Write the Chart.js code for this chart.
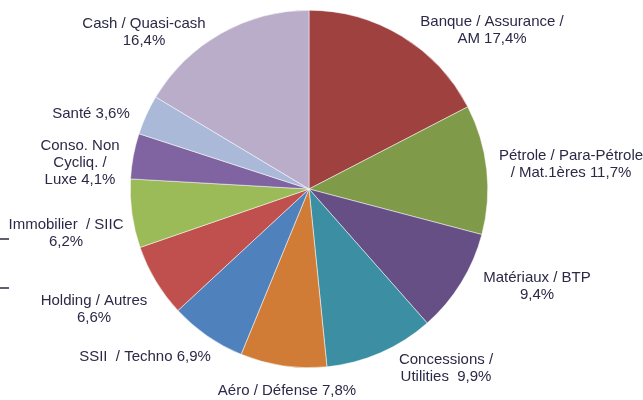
<!DOCTYPE html>
<html>
<head>
<meta charset="utf-8">
<script src="https://cdn.jsdelivr.net/npm/chart.js@4/dist/chart.umd.min.js"></script>
<style>
  html, body { margin: 0; padding: 0; background: #fff; }
  #wrap { width: 643px; height: 400px; }
</style>
</head>
<body>
<div id="wrap"><canvas id="myChart" width="643" height="400"></canvas></div>
<script>
// secteurs, dans l'ordre horaire depuis midi
const secteurs = [
  ['Banque / Assurance /', 'AM 17,4%'],
  ['Pétrole / Para-Pétrole', '/ Mat.1ères 11,7%'],
  ['Matériaux / BTP', '9,4%'],
  ['Concessions /', 'Utilities  9,9%'],
  ['Aéro / Défense 7,8%'],
  ['SSII  / Techno 6,9%'],
  ['Holding / Autres', '6,6%'],
  ['Immobilier  / SIIC', '6,2%'],
  ['Conso. Non', 'Cycliq. /', 'Luxe 4,1%'],
  ['Santé 3,6%'],
  ['Cash / Quasi-cash', '16,4%']
];
const poids = [17.4, 11.7, 9.4, 9.9, 7.8, 6.9, 6.6, 6.2, 4.1, 3.6, 16.4];
const couleurs = ['#9e413f', '#7f9a48', '#664f85', '#3c8ea3', '#d07c37', '#4f81bd',
                  '#c0504d', '#9bbb59', '#8064a2', '#aab9d8', '#b9adca'];

// centre de chaque bloc d'etiquette, decalage depuis le centre du camembert (px)
const posEtiquettes = [
  [183, -159], [262, -25], [228, 97], [137, 179], [-22, 202],
  [-164, 168], [-215, 120], [-243, 44], [-229, -26], [-218, -75], [-165, -157]
];

const etiquettes = {
  id: 'etiquettes',
  afterDraw(chart) {
    const ctx = chart.ctx;
    const arc = chart.getDatasetMeta(0).data[0];
    const cx = arc.x, cy = arc.y;
    ctx.save();
    ctx.fillStyle = '#2b2946';
    ctx.font = '15px "Liberation Sans", Arial, sans-serif';
    ctx.textAlign = 'center';
    ctx.textBaseline = 'middle';
    secteurs.forEach((lignes, i) => {
      const x = cx + posEtiquettes[i][0];
      const y0 = cy + posEtiquettes[i][1] - (lignes.length - 1) * 17 / 2;
      lignes.forEach((l, j) => ctx.fillText(l, x, y0 + j * 17));
    });
    // petits traits sur le bord gauche
    ctx.strokeStyle = '#2b2946';
    ctx.lineWidth = 1.5;
    [239, 288].forEach(y => {
      ctx.beginPath();
      ctx.moveTo(0, y);
      ctx.lineTo(9, y);
      ctx.stroke();
    });
    ctx.restore();
  }
};

new Chart(document.getElementById('myChart'), {
  type: 'pie',
  data: {
    labels: secteurs.map(s => s.join(' ')),
    datasets: [{
      data: poids,
      backgroundColor: couleurs,
      borderColor: '#ffffff',
      borderWidth: 0.5
    }]
  },
  options: {
    responsive: false,
    animation: false,
    layout: { padding: { left: 130, right: 155, top: 10, bottom: 32 } },
    plugins: {
      legend: { display: false },
      tooltip: { enabled: false }
    }
  },
  plugins: [etiquettes]
});
</script>
</body>
</html>
